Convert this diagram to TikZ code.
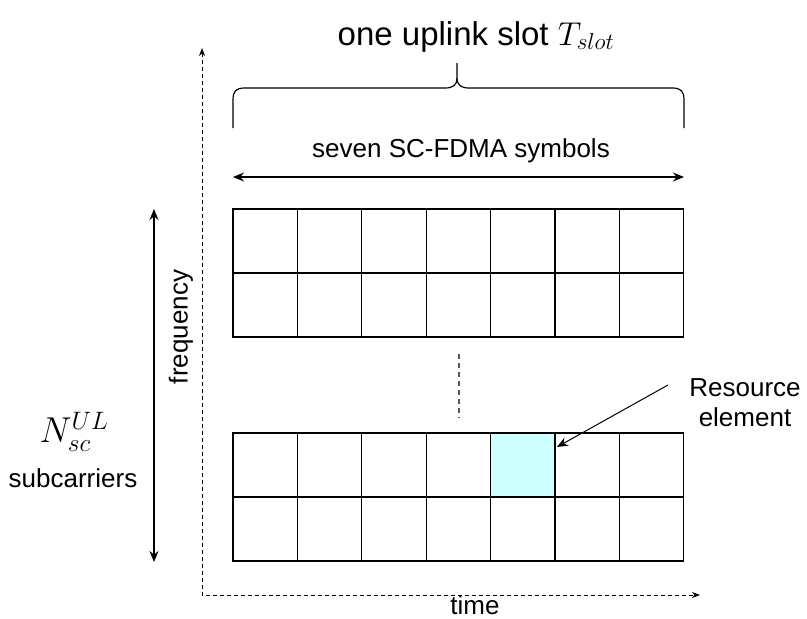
\RequirePackage{fix-cm}
\documentclass[tikz,border=0pt]{standalone}
\usepackage{fontspec}
\setmainfont{Liberation Sans}
\usetikzlibrary{arrows.meta, calc, positioning}
\definecolor{recyan}{HTML}{CCFFFF}
\definecolor{dotgray}{HTML}{555555}
\tikzset{
  cell/.style={draw, rectangle, inner sep=0pt, outer sep=0pt, line width=1.3pt,
    minimum width=64.4pt, minimum height=64pt, anchor=north west},
  axis/.style={line width=1pt, dash pattern=on 4pt off 3pt},
  span/.style={line width=1.3pt, {Stealth[length=11pt,width=9pt]}-{Stealth[length=11pt,width=9pt]}},
  lbl/.style={inner sep=0pt, font=\fontsize{26}{30}\selectfont}
}
\newcommand\DrawBlock[2]{%
\foreach \r in {1,2}{%
  \foreach \c in {1,...,7}{%
    \node[cell] (#1-\r-\c) at ({233+(\c-1)*64.4},{#2+(\r-1)*64}) {};
  }}%
}
\newcommand\FillCell[2]{%
  \fill[#2] ( $ (#1.north west) + (0.65,0.65) $ ) rectangle ( $ (#1.south east) + (-0.65,-0.65) $ );
}

\begin{document}
\begin{tikzpicture}[x=1pt, y=-1pt]
  \useasboundingbox (0,0) rectangle (807,619);

  % time / frequency axes
  \coordinate (org) at (202,595);
  \coordinate (f-end) at (202,48);
  \coordinate (t-end) at (700,595);
  \draw[axis, {Stealth[length=8pt,width=6pt]}-{Stealth[length=8pt,width=6pt]}] (f-end) -- (org) -- (t-end);
  \node[lbl, anchor=base] (time) at (475,614) {time};
  \node[lbl, rotate=90] (freq) at (181,327) {frequency};

  % resource grid
  \DrawBlock{t}{209}
  \DrawBlock{b}{433}
  \FillCell{b-1-5}{recyan}

  \coordinate (dots-top) at (459,354);
  \coordinate (dots-bot) at (459,418);
  \draw[line width=1.3pt, dash pattern=on 5pt off 4pt, dotgray] (dots-top) -- (dots-bot);

  % slot brace
  \coordinate (br-l) at (233,128);
  \coordinate (br-r) at (684,128);
  \coordinate (br-tip) at (457,63);
  \draw[line width=1.2pt] (br-l) -- (233,100) .. controls (233,91) and (236,88) .. (245,88)
    -- (445,88) .. controls (453,88) and (457,85) .. (457,78) -- (br-tip);
  \draw[line width=1.2pt] (br-r) -- (684,100) .. controls (684,91) and (681,88) .. (672,88)
    -- (469,88) .. controls (461,88) and (457,85) .. (457,78);
  \node[lbl, anchor=base, font=\fontsize{33}{38}\selectfont] (slot) at (476,45) {one uplink slot $T_{slot}$};

  \node[lbl, anchor=base] (sym) at (461,157) {seven SC-FDMA symbols};
  \coordinate (sym-l) at (233,177);
  \coordinate (sym-r) at (684,177);
  \draw[span] (sym-l) -- (sym-r);

  % subcarriers
  \coordinate (sc-top) at (154,209);
  \coordinate (sc-bot) at (154,562);
  \draw[span] (sc-top) -- (sc-bot);
  \node[inner sep=0pt, font=\fontsize{36}{40}\selectfont] (nsc) at (74,432) {$N_{sc}^{UL}$};
  \node[lbl, anchor=base] (subc) at (73,487) {subcarriers};

  % resource element
  \node[lbl, align=center] (re) at (745,403) {Resource\\element};
  \coordinate (re-tail) at (668,385);
  \coordinate (re-tip) at ( $ (b-1-5.north east) + (2,14) $ );
  \draw[line width=1pt, -{Stealth[length=11pt,width=9pt]}] (re-tail) -- (re-tip);
\end{tikzpicture}
\end{document}
